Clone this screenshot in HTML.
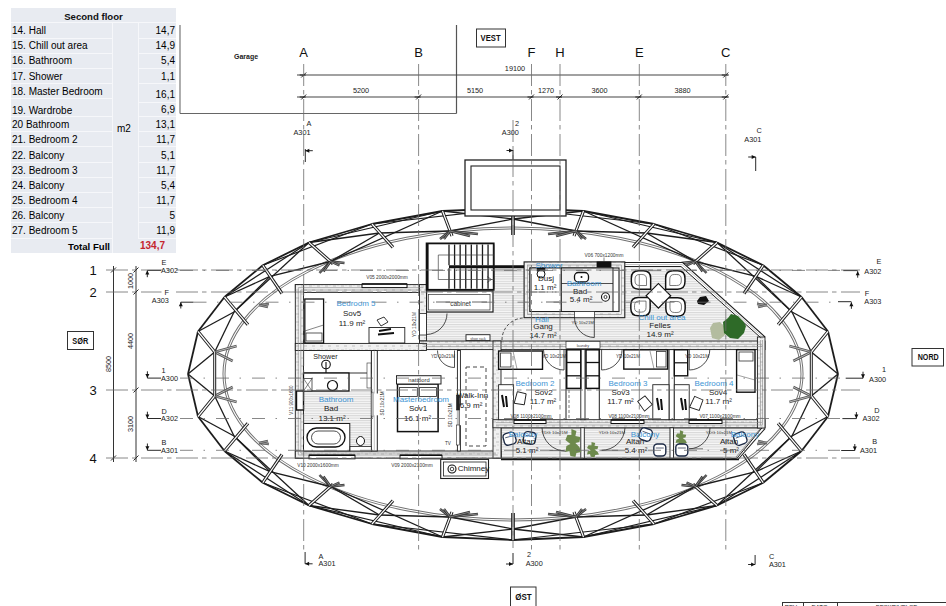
<!DOCTYPE html>
<html><head><meta charset="utf-8"><style>
html,body{margin:0;padding:0;background:#fff;width:946px;height:606px;overflow:hidden;position:relative;font-family:"Liberation Sans",sans-serif}
.tn{position:absolute;left:12px;font-size:10px;line-height:12px;color:#000;white-space:nowrap}
.tv{position:absolute;left:138px;width:37px;text-align:right;font-size:10px;line-height:12px;color:#000}
.th{position:absolute;left:11px;top:10.5px;width:165px;text-align:center;font-size:9.6px;font-weight:bold;line-height:12px;color:#111}
</style></head><body>
<div style="position:absolute;left:11px;top:8px;width:165px;height:245px;background:#e8ebf1"></div><div style="position:absolute;left:11px;top:22.0px;width:165px;height:1px;background:#f6f7fa"></div><div style="position:absolute;left:11px;top:37.5px;width:101px;height:1px;background:#f6f7fa"></div><div style="position:absolute;left:11px;top:52.5px;width:101px;height:1px;background:#f6f7fa"></div><div style="position:absolute;left:11px;top:68.0px;width:101px;height:1px;background:#f6f7fa"></div><div style="position:absolute;left:11px;top:82.5px;width:101px;height:1px;background:#f6f7fa"></div><div style="position:absolute;left:11px;top:97.5px;width:101px;height:1px;background:#f6f7fa"></div><div style="position:absolute;left:11px;top:116.0px;width:101px;height:1px;background:#f6f7fa"></div><div style="position:absolute;left:11px;top:131.0px;width:101px;height:1px;background:#f6f7fa"></div><div style="position:absolute;left:11px;top:146.0px;width:101px;height:1px;background:#f6f7fa"></div><div style="position:absolute;left:11px;top:161.5px;width:101px;height:1px;background:#f6f7fa"></div><div style="position:absolute;left:11px;top:176.5px;width:101px;height:1px;background:#f6f7fa"></div><div style="position:absolute;left:11px;top:191.8px;width:101px;height:1px;background:#f6f7fa"></div><div style="position:absolute;left:11px;top:207.1px;width:101px;height:1px;background:#f6f7fa"></div><div style="position:absolute;left:11px;top:222.3px;width:101px;height:1px;background:#f6f7fa"></div><div style="position:absolute;left:11px;top:237.5px;width:101px;height:1px;background:#f6f7fa"></div><div style="position:absolute;left:138px;top:37.5px;width:38px;height:1px;background:#f6f7fa"></div><div style="position:absolute;left:138px;top:52.5px;width:38px;height:1px;background:#f6f7fa"></div><div style="position:absolute;left:138px;top:68.0px;width:38px;height:1px;background:#f6f7fa"></div><div style="position:absolute;left:138px;top:82.5px;width:38px;height:1px;background:#f6f7fa"></div><div style="position:absolute;left:138px;top:101.5px;width:38px;height:1px;background:#f6f7fa"></div><div style="position:absolute;left:138px;top:116.0px;width:38px;height:1px;background:#f6f7fa"></div><div style="position:absolute;left:138px;top:131.0px;width:38px;height:1px;background:#f6f7fa"></div><div style="position:absolute;left:138px;top:146.0px;width:38px;height:1px;background:#f6f7fa"></div><div style="position:absolute;left:138px;top:161.5px;width:38px;height:1px;background:#f6f7fa"></div><div style="position:absolute;left:138px;top:176.5px;width:38px;height:1px;background:#f6f7fa"></div><div style="position:absolute;left:138px;top:191.8px;width:38px;height:1px;background:#f6f7fa"></div><div style="position:absolute;left:138px;top:207.1px;width:38px;height:1px;background:#f6f7fa"></div><div style="position:absolute;left:138px;top:222.3px;width:38px;height:1px;background:#f6f7fa"></div><div style="position:absolute;left:138px;top:237.5px;width:38px;height:1px;background:#f6f7fa"></div><div style="position:absolute;left:111.5px;top:22.5px;width:1px;height:230.5px;background:#f6f7fa"></div><div style="position:absolute;left:137.5px;top:22.5px;width:1px;height:215.5px;background:#f6f7fa"></div><div class="tn" style="top:25.04px">14. Hall</div><div class="tv" style="top:25.04px">14,7</div><div class="tn" style="top:40.14px">15. Chill out area</div><div class="tv" style="top:40.14px">14,9</div><div class="tn" style="top:55.34px">16. Bathroom</div><div class="tv" style="top:55.34px">5,4</div><div class="tn" style="top:70.54px">17. Shower</div><div class="tv" style="top:70.54px">1,1</div><div class="tn" style="top:85.74px">18. Master Bedroom</div><div class="tv" style="top:88.54px">16,1</div><div class="tn" style="top:104.74px">19. Wardrobe</div><div class="tv" style="top:104.24px">6,9</div><div class="tn" style="top:119.44px">20 Bathroom</div><div class="tv" style="top:119.44px">13,1</div><div class="tn" style="top:134.24px">21. Bedroom 2</div><div class="tv" style="top:134.24px">11,7</div><div class="tn" style="top:149.54px">22. Balcony</div><div class="tv" style="top:149.54px">5,1</div><div class="tn" style="top:164.84px">23. Bedroom 3</div><div class="tv" style="top:164.84px">11,7</div><div class="tn" style="top:180.04px">24. Balcony</div><div class="tv" style="top:180.04px">5,4</div><div class="tn" style="top:194.64px">25. Bedroom 4</div><div class="tv" style="top:194.64px">11,7</div><div class="tn" style="top:209.54px">26. Balcony</div><div class="tv" style="top:209.54px">5</div><div class="tn" style="top:225.14px">27. Bedroom 5</div><div class="tv" style="top:225.14px">11,9</div><div class="th">Second floor</div><div class="tn" style="top:123.04px;left:117px">m2</div><div class="tn" style="top:240.70px;left:0;width:110px;text-align:right;font-weight:bold;font-size:9.6px">Total Full</div><div class="tn" style="top:240.34px;left:140px;color:#c4262e;font-weight:bold;font-size:10px">134,7</div>
<svg width="946" height="606" viewBox="0 0 946 606" style="position:absolute;left:0;top:0" font-family="Liberation Sans, sans-serif"><line x1="180.0" y1="25.0" x2="180.0" y2="113.5" stroke="#777" stroke-width="1.2" /><line x1="180.0" y1="113.5" x2="456.5" y2="113.5" stroke="#666" stroke-width="1.2" /><line x1="456.5" y1="25.0" x2="456.5" y2="113.5" stroke="#555" stroke-width="1.2" /><text x="246" y="59" font-size="7" text-anchor="middle" fill="#222" font-weight="bold" >Garage</text><rect x="476.5" y="29" width="29" height="18" fill="#fff" stroke="#333" stroke-width="1"/><text x="490.6" y="41.2" font-size="8.8" text-anchor="middle" fill="#111" font-weight="bold" textLength="20" lengthAdjust="spacingAndGlyphs">VEST</text><text x="303.7" y="57" font-size="13" text-anchor="middle" fill="#111" font-weight="normal" >A</text><text x="418.6" y="57" font-size="13" text-anchor="middle" fill="#111" font-weight="normal" >B</text><text x="531.5" y="57" font-size="13" text-anchor="middle" fill="#111" font-weight="normal" >F</text><text x="560" y="57" font-size="13" text-anchor="middle" fill="#111" font-weight="normal" >H</text><text x="639.3" y="57" font-size="13" text-anchor="middle" fill="#111" font-weight="normal" >E</text><text x="725.8" y="57" font-size="13" text-anchor="middle" fill="#111" font-weight="normal" >C</text><line x1="297.0" y1="75.0" x2="729.0" y2="75.0" stroke="#444" stroke-width="1.1" /><line x1="297.0" y1="97.0" x2="729.0" y2="97.0" stroke="#444" stroke-width="1.1" /><line x1="301.2" y1="77.5" x2="306.2" y2="72.5" stroke="#111" stroke-width="0.9" /><line x1="299.7" y1="75.0" x2="305.7" y2="75.0" stroke="#111" stroke-width="0.9" /><line x1="723.3" y1="77.5" x2="728.3" y2="72.5" stroke="#111" stroke-width="0.9" /><line x1="721.8" y1="75.0" x2="727.8" y2="75.0" stroke="#111" stroke-width="0.9" /><line x1="301.2" y1="99.5" x2="306.2" y2="94.5" stroke="#111" stroke-width="0.9" /><line x1="299.7" y1="97.0" x2="305.7" y2="97.0" stroke="#111" stroke-width="0.9" /><line x1="416.1" y1="99.5" x2="421.1" y2="94.5" stroke="#111" stroke-width="0.9" /><line x1="414.6" y1="97.0" x2="420.6" y2="97.0" stroke="#111" stroke-width="0.9" /><line x1="529.0" y1="99.5" x2="534.0" y2="94.5" stroke="#111" stroke-width="0.9" /><line x1="527.5" y1="97.0" x2="533.5" y2="97.0" stroke="#111" stroke-width="0.9" /><line x1="557.5" y1="99.5" x2="562.5" y2="94.5" stroke="#111" stroke-width="0.9" /><line x1="556.0" y1="97.0" x2="562.0" y2="97.0" stroke="#111" stroke-width="0.9" /><line x1="636.8" y1="99.5" x2="641.8" y2="94.5" stroke="#111" stroke-width="0.9" /><line x1="635.3" y1="97.0" x2="641.3" y2="97.0" stroke="#111" stroke-width="0.9" /><line x1="723.3" y1="99.5" x2="728.3" y2="94.5" stroke="#111" stroke-width="0.9" /><line x1="721.8" y1="97.0" x2="727.8" y2="97.0" stroke="#111" stroke-width="0.9" /><text x="515" y="70.5" font-size="7.3" text-anchor="middle" fill="#222" font-weight="normal" >19100</text><text x="361" y="92.5" font-size="7.3" text-anchor="middle" fill="#222" font-weight="normal" >5200</text><text x="475" y="92.5" font-size="7.3" text-anchor="middle" fill="#222" font-weight="normal" >5150</text><text x="546" y="92.5" font-size="7.3" text-anchor="middle" fill="#222" font-weight="normal" >1270</text><text x="599.5" y="92.5" font-size="7.3" text-anchor="middle" fill="#222" font-weight="normal" >3600</text><text x="682.5" y="92.5" font-size="7.3" text-anchor="middle" fill="#222" font-weight="normal" >3880</text><text x="308.9" y="126" font-size="7.3" text-anchor="middle" fill="#222" font-weight="normal" >A</text><text x="302" y="135.3" font-size="7.3" text-anchor="middle" fill="#222" font-weight="normal" >A301</text><text x="517" y="126" font-size="7.3" text-anchor="middle" fill="#222" font-weight="normal" >2</text><text x="510.3" y="135.3" font-size="7.3" text-anchor="middle" fill="#222" font-weight="normal" >A300</text><text x="759.2" y="133.3" font-size="7.3" text-anchor="middle" fill="#222" font-weight="normal" >C</text><text x="752.8" y="142" font-size="7.3" text-anchor="middle" fill="#222" font-weight="normal" >A301</text><line x1="305.3" y1="149.0" x2="305.3" y2="162.0" stroke="#111" stroke-width="0.9" /><path d="M305.3,150.7 L312.8,150.7" stroke="#111" stroke-width="0.9"/><path d="M305.3,150.7 L309.3,148.7 L309.3,152.7 Z" fill="#111"/><line x1="513.0" y1="150.0" x2="513.0" y2="161.7" stroke="#111" stroke-width="0.9" /><path d="M513,150.5 L506.5,150.5" stroke="#111" stroke-width="0.9"/><path d="M513,150.5 L509,148.5 L509,152.5 Z" fill="#111"/><line x1="755.7" y1="157.0" x2="755.7" y2="171.0" stroke="#111" stroke-width="0.9" /><path d="M755.7,157 L748.2,157" stroke="#111" stroke-width="0.9"/><path d="M755.7,157 L751.7,155 L751.7,159 Z" fill="#111"/><text x="318.5" y="558.5" font-size="7.3" text-anchor="start" fill="#222" font-weight="normal" >A</text><text x="318.5" y="566.3" font-size="7.3" text-anchor="start" fill="#222" font-weight="normal" >A301</text><text x="527" y="557" font-size="7.3" text-anchor="start" fill="#222" font-weight="normal" >2</text><text x="525.7" y="565.5" font-size="7.3" text-anchor="start" fill="#222" font-weight="normal" >A300</text><text x="768.9" y="558.7" font-size="7.3" text-anchor="start" fill="#222" font-weight="normal" >C</text><text x="768.9" y="566.5" font-size="7.3" text-anchor="start" fill="#222" font-weight="normal" >A301</text><line x1="305.1" y1="552.0" x2="305.1" y2="563.8" stroke="#111" stroke-width="0.9" /><path d="M305.1,563.8 L312.6,563.8" stroke="#111" stroke-width="0.9"/><path d="M305.1,563.8 L309.1,561.8 L309.1,565.8 Z" fill="#111"/><line x1="513.0" y1="553.0" x2="513.0" y2="564.0" stroke="#111" stroke-width="0.9" /><path d="M513,564 L506,564" stroke="#111" stroke-width="0.9"/><path d="M513,564 L509,562 L509,566 Z" fill="#111"/><line x1="755.1" y1="555.0" x2="755.1" y2="564.5" stroke="#111" stroke-width="0.9" /><path d="M755.1,564.5 L748.1,564.5" stroke="#111" stroke-width="0.9"/><path d="M755.1,564.5 L751.1,562.5 L751.1,566.5 Z" fill="#111"/><text x="93" y="275" font-size="13" text-anchor="middle" fill="#111" font-weight="normal" >1</text><text x="93" y="297" font-size="13" text-anchor="middle" fill="#111" font-weight="normal" >2</text><text x="93" y="395" font-size="13" text-anchor="middle" fill="#111" font-weight="normal" >3</text><text x="93" y="463" font-size="13" text-anchor="middle" fill="#111" font-weight="normal" >4</text><line x1="113.5" y1="266.0" x2="113.5" y2="462.0" stroke="#333" stroke-width="1.0" /><line x1="136.0" y1="266.0" x2="136.0" y2="462.0" stroke="#333" stroke-width="1.0" /><line x1="111.0" y1="272.5" x2="116.0" y2="267.5" stroke="#111" stroke-width="0.9" /><line x1="111.0" y1="460.5" x2="116.0" y2="455.5" stroke="#111" stroke-width="0.9" /><line x1="133.5" y1="272.5" x2="138.5" y2="267.5" stroke="#111" stroke-width="0.9" /><line x1="133.5" y1="294.5" x2="138.5" y2="289.5" stroke="#111" stroke-width="0.9" /><line x1="133.5" y1="392.5" x2="138.5" y2="387.5" stroke="#111" stroke-width="0.9" /><line x1="133.5" y1="460.5" x2="138.5" y2="455.5" stroke="#111" stroke-width="0.9" /><text x="0" y="0" font-size="7.3" text-anchor="middle" fill="#222" font-weight="normal" transform="translate(110.5,364) rotate(-90)">8500</text><text x="0" y="0" font-size="7.3" text-anchor="middle" fill="#222" font-weight="normal" transform="translate(133,281) rotate(-90)">1000</text><text x="0" y="0" font-size="7.3" text-anchor="middle" fill="#222" font-weight="normal" transform="translate(133,341) rotate(-90)">4400</text><text x="0" y="0" font-size="7.3" text-anchor="middle" fill="#222" font-weight="normal" transform="translate(133,424) rotate(-90)">3100</text><rect x="67.5" y="331.5" width="26" height="18" fill="#fff" stroke="#333" stroke-width="1"/><text x="80.3" y="343.8" font-size="8.6" text-anchor="middle" fill="#111" font-weight="bold" textLength="16" lengthAdjust="spacingAndGlyphs">SØR</text><rect x="912" y="348.5" width="31.5" height="17.5" fill="#fff" stroke="#333" stroke-width="1"/><text x="928.2" y="360.4" font-size="8.6" text-anchor="middle" fill="#111" font-weight="bold" textLength="21" lengthAdjust="spacingAndGlyphs">NORD</text><rect x="510.5" y="587" width="25.5" height="22" fill="#fff" stroke="#333" stroke-width="1"/><text x="523.5" y="600.3" font-size="8.6" text-anchor="middle" fill="#111" font-weight="bold" textLength="16.5" lengthAdjust="spacingAndGlyphs">ØST</text><text x="161.5" y="264.5" font-size="7.3" text-anchor="start" fill="#222" font-weight="normal" >E</text><text x="161" y="272.7" font-size="7.3" text-anchor="start" fill="#222" font-weight="normal" >A302</text><line x1="147.3" y1="270.4" x2="161.0" y2="270.4" stroke="#111" stroke-width="0.9" /><path d="M147.3,270.4 L147.3,277.2" stroke="#111" stroke-width="0.9"/><path d="M147.3,270.4 L145.3,274.4 L149.3,274.4 Z" fill="#111"/><text x="161.5" y="373.2" font-size="7.3" text-anchor="start" fill="#222" font-weight="normal" >1</text><text x="161" y="381.4" font-size="7.3" text-anchor="start" fill="#222" font-weight="normal" >A300</text><line x1="147.4" y1="378.1" x2="161.0" y2="378.1" stroke="#111" stroke-width="0.9" /><path d="M147.4,378.1 L147.4,371.3" stroke="#111" stroke-width="0.9"/><path d="M147.4,378.1 L145.4,374.1 L149.4,374.1 Z" fill="#111"/><text x="161.5" y="413.6" font-size="7.3" text-anchor="start" fill="#222" font-weight="normal" >D</text><text x="161" y="421.3" font-size="7.3" text-anchor="start" fill="#222" font-weight="normal" >A302</text><line x1="147.4" y1="418.5" x2="161.0" y2="418.5" stroke="#111" stroke-width="0.9" /><path d="M147.4,418.5 L147.4,411.7" stroke="#111" stroke-width="0.9"/><path d="M147.4,418.5 L145.4,414.5 L149.4,414.5 Z" fill="#111"/><text x="161.5" y="444.9" font-size="7.3" text-anchor="start" fill="#222" font-weight="normal" >B</text><text x="161" y="452.6" font-size="7.3" text-anchor="start" fill="#222" font-weight="normal" >A301</text><line x1="147.4" y1="450.3" x2="161.0" y2="450.3" stroke="#111" stroke-width="0.9" /><path d="M147.4,450.3 L147.4,443.5" stroke="#111" stroke-width="0.9"/><path d="M147.4,450.3 L145.4,446.3 L149.4,446.3 Z" fill="#111"/><text x="151.8" y="303.1" font-size="7.3" text-anchor="start" fill="#222" font-weight="normal" >A303</text><line x1="180.8" y1="302.2" x2="193.5" y2="302.2" stroke="#111" stroke-width="0.9" /><path d="M180.8,302.2 L180.8,308.5" stroke="#111" stroke-width="0.9"/><path d="M180.8,302.2 L178.8,306.2 L182.8,306.2 Z" fill="#111"/><line x1="843.3" y1="270.6" x2="857.7" y2="270.6" stroke="#111" stroke-width="0.9" /><path d="M857.7,271.20000000000005 L857.7,277.70000000000005" stroke="#111" stroke-width="0.9"/><path d="M857.7,271.20000000000005 L855.7,275.20000000000005 L859.7,275.20000000000005 Z" fill="#111"/><text x="881.4" y="273.7" font-size="7.3" text-anchor="end" fill="#222" font-weight="normal" >A302</text><text x="881.4" y="263.9" font-size="7.3" text-anchor="end" fill="#222" font-weight="normal" >E</text><line x1="838.0" y1="301.7" x2="851.4" y2="301.7" stroke="#111" stroke-width="0.9" /><path d="M851.4,302.3 L851.4,308.8" stroke="#111" stroke-width="0.9"/><path d="M851.4,302.3 L849.4,306.3 L853.4,306.3 Z" fill="#111"/><text x="881.4" y="303.7" font-size="7.3" text-anchor="end" fill="#222" font-weight="normal" >A303</text><text x="864.7" y="295.6" font-size="7.3" text-anchor="start" fill="#222" font-weight="normal" >F</text><line x1="845.7" y1="378.2" x2="863.0" y2="378.2" stroke="#111" stroke-width="0.9" /><path d="M863,378.2 L863,371.7" stroke="#111" stroke-width="0.9"/><path d="M863,378.2 L861,374.2 L865,374.2 Z" fill="#111"/><text x="886.1" y="381.5" font-size="7.3" text-anchor="end" fill="#222" font-weight="normal" >A300</text><text x="886.1" y="371.9" font-size="7.3" text-anchor="end" fill="#222" font-weight="normal" >1</text><line x1="842.4" y1="418.6" x2="856.4" y2="418.6" stroke="#111" stroke-width="0.9" /><path d="M856.4,418.6 L856.4,412.1" stroke="#111" stroke-width="0.9"/><path d="M856.4,418.6 L854.4,414.6 L858.4,414.6 Z" fill="#111"/><text x="879.5" y="421.4" font-size="7.3" text-anchor="end" fill="#222" font-weight="normal" >A302</text><text x="879.5" y="412.5" font-size="7.3" text-anchor="end" fill="#222" font-weight="normal" >D</text><line x1="841.2" y1="450.5" x2="854.8" y2="450.5" stroke="#111" stroke-width="0.9" /><path d="M854.8,450.5 L854.8,444.0" stroke="#111" stroke-width="0.9"/><path d="M854.8,450.5 L852.8,446.5 L856.8,446.5 Z" fill="#111"/><text x="877" y="453.3" font-size="7.3" text-anchor="end" fill="#222" font-weight="normal" >A301</text><text x="877" y="444.2" font-size="7.3" text-anchor="end" fill="#222" font-weight="normal" >B</text><line x1="782.0" y1="602.5" x2="946.0" y2="602.5" stroke="#333" stroke-width="1" /><line x1="782.5" y1="602.0" x2="782.5" y2="606.0" stroke="#333" stroke-width="1" /><line x1="803.5" y1="602.0" x2="803.5" y2="606.0" stroke="#333" stroke-width="1" /><line x1="837.5" y1="602.0" x2="837.5" y2="606.0" stroke="#333" stroke-width="1" /><text x="791.5" y="608.8" font-size="6" text-anchor="middle" fill="#222" font-weight="normal" >REV.</text><text x="819.5" y="608.8" font-size="6" text-anchor="middle" fill="#222" font-weight="normal" >DATO</text><text x="896.5" y="608.8" font-size="6" text-anchor="middle" fill="#222" font-weight="normal" >BESKRIVELSE</text><ellipse cx="513" cy="374" rx="289" ry="146" fill="none" stroke="#707070" stroke-width="3"/><ellipse cx="513" cy="374" rx="289" ry="146" fill="none" stroke="#fff" stroke-width="1.1"/><line x1="188.0" y1="374.0" x2="198.0" y2="331.5" stroke="#1c1c1c" stroke-width="1.8" /><line x1="198.0" y1="331.5" x2="224.5" y2="297.0" stroke="#1c1c1c" stroke-width="1.8" /><line x1="224.5" y1="297.0" x2="262.8" y2="265.3" stroke="#1c1c1c" stroke-width="1.8" /><line x1="262.8" y1="265.3" x2="309.0" y2="242.5" stroke="#1c1c1c" stroke-width="1.8" /><line x1="309.0" y1="242.5" x2="372.0" y2="224.0" stroke="#1c1c1c" stroke-width="1.8" /><line x1="372.0" y1="224.0" x2="442.5" y2="211.0" stroke="#1c1c1c" stroke-width="1.8" /><line x1="442.5" y1="211.0" x2="513.0" y2="208.0" stroke="#1c1c1c" stroke-width="1.8" /><line x1="224.5" y1="297.0" x2="309.0" y2="242.5" stroke="#1c1c1c" stroke-width="1.2" /><line x1="262.8" y1="265.3" x2="372.0" y2="224.0" stroke="#1c1c1c" stroke-width="1.2" /><line x1="309.0" y1="242.5" x2="442.5" y2="211.0" stroke="#1c1c1c" stroke-width="1.2" /><line x1="372.0" y1="224.0" x2="513.0" y2="208.0" stroke="#1c1c1c" stroke-width="1.2" /><line x1="188.0" y1="374.0" x2="214.7" y2="352.0" stroke="#1c1c1c" stroke-width="1.3" /><line x1="224.5" y1="297.0" x2="270.0" y2="276.4" stroke="#1c1c1c" stroke-width="1.3" /><line x1="309.0" y1="242.5" x2="379.5" y2="233.0" stroke="#1c1c1c" stroke-width="1.3" /><line x1="442.5" y1="211.0" x2="513.0" y2="219.0" stroke="#1c1c1c" stroke-width="1.3" /><line x1="198.0" y1="331.5" x2="234.0" y2="312.0" stroke="#1c1c1c" stroke-width="1.3" /><line x1="234.0" y1="312.0" x2="309.0" y2="242.5" stroke="#1c1c1c" stroke-width="1.3" /><line x1="330.5" y1="261.5" x2="442.5" y2="211.0" stroke="#1c1c1c" stroke-width="1.3" /><line x1="214.7" y1="352.0" x2="234.0" y2="312.0" stroke="#1c1c1c" stroke-width="1.3" /><line x1="234.0" y1="312.0" x2="270.0" y2="276.4" stroke="#1c1c1c" stroke-width="1.3" /><line x1="270.0" y1="276.4" x2="330.5" y2="261.5" stroke="#1c1c1c" stroke-width="1.3" /><line x1="330.5" y1="261.5" x2="379.5" y2="233.0" stroke="#1c1c1c" stroke-width="1.3" /><line x1="379.5" y1="233.0" x2="450.0" y2="231.0" stroke="#1c1c1c" stroke-width="1.3" /><line x1="450.0" y1="231.0" x2="513.0" y2="219.0" stroke="#1c1c1c" stroke-width="1.3" /><line x1="198.0" y1="331.5" x2="214.7" y2="352.0" stroke="#1c1c1c" stroke-width="3.2" stroke-linecap="butt"/><line x1="198.0" y1="331.5" x2="214.7" y2="352.0" stroke="#fff" stroke-width="1.2000000000000002" stroke-linecap="butt"/><line x1="224.5" y1="297.0" x2="247.9" y2="324.7" stroke="#1c1c1c" stroke-width="3.2" stroke-linecap="butt"/><line x1="224.5" y1="297.0" x2="247.9" y2="324.7" stroke="#fff" stroke-width="1.2000000000000002" stroke-linecap="butt"/><line x1="262.8" y1="265.3" x2="282.0" y2="293.5" stroke="#1c1c1c" stroke-width="3.2" stroke-linecap="butt"/><line x1="262.8" y1="265.3" x2="282.0" y2="293.5" stroke="#fff" stroke-width="1.2000000000000002" stroke-linecap="butt"/><line x1="309.0" y1="242.5" x2="333.0" y2="263.8" stroke="#1c1c1c" stroke-width="3.2" stroke-linecap="butt"/><line x1="309.0" y1="242.5" x2="333.0" y2="263.8" stroke="#fff" stroke-width="1.2000000000000002" stroke-linecap="butt"/><line x1="372.0" y1="224.0" x2="393.0" y2="247.4" stroke="#1c1c1c" stroke-width="3.2" stroke-linecap="butt"/><line x1="372.0" y1="224.0" x2="393.0" y2="247.4" stroke="#fff" stroke-width="1.2000000000000002" stroke-linecap="butt"/><line x1="442.5" y1="211.0" x2="452.0" y2="236.0" stroke="#1c1c1c" stroke-width="3.2" stroke-linecap="butt"/><line x1="442.5" y1="211.0" x2="452.0" y2="236.0" stroke="#fff" stroke-width="1.2000000000000002" stroke-linecap="butt"/><line x1="513.0" y1="208.0" x2="513.0" y2="235.0" stroke="#1c1c1c" stroke-width="3.2" stroke-linecap="butt"/><line x1="513.0" y1="208.0" x2="513.0" y2="235.0" stroke="#fff" stroke-width="1.2000000000000002" stroke-linecap="butt"/><line x1="330.5" y1="261.5" x2="319.5" y2="273.0" stroke="#333" stroke-width="2.4" stroke-linecap="butt"/><line x1="330.5" y1="261.5" x2="319.5" y2="273.0" stroke="#fff" stroke-width="0.3999999999999999" stroke-linecap="butt"/><line x1="330.5" y1="261.5" x2="323.5" y2="271.5" stroke="#333" stroke-width="2.4" stroke-linecap="butt"/><line x1="330.5" y1="261.5" x2="323.5" y2="271.5" stroke="#fff" stroke-width="0.3999999999999999" stroke-linecap="butt"/><line x1="330.5" y1="261.5" x2="344.5" y2="263.0" stroke="#333" stroke-width="2.4" stroke-linecap="butt"/><line x1="330.5" y1="261.5" x2="344.5" y2="263.0" stroke="#fff" stroke-width="0.3999999999999999" stroke-linecap="butt"/><line x1="330.5" y1="261.5" x2="339.5" y2="265.5" stroke="#333" stroke-width="2.4" stroke-linecap="butt"/><line x1="330.5" y1="261.5" x2="339.5" y2="265.5" stroke="#fff" stroke-width="0.3999999999999999" stroke-linecap="butt"/><line x1="450.0" y1="231.0" x2="440.0" y2="239.0" stroke="#333" stroke-width="2.4" stroke-linecap="butt"/><line x1="450.0" y1="231.0" x2="440.0" y2="239.0" stroke="#fff" stroke-width="0.3999999999999999" stroke-linecap="butt"/><line x1="450.0" y1="231.0" x2="444.0" y2="239.0" stroke="#333" stroke-width="2.4" stroke-linecap="butt"/><line x1="450.0" y1="231.0" x2="444.0" y2="239.0" stroke="#fff" stroke-width="0.3999999999999999" stroke-linecap="butt"/><line x1="450.0" y1="231.0" x2="478.0" y2="234.0" stroke="#333" stroke-width="2.4" stroke-linecap="butt"/><line x1="450.0" y1="231.0" x2="478.0" y2="234.0" stroke="#fff" stroke-width="0.3999999999999999" stroke-linecap="butt"/><line x1="450.0" y1="231.0" x2="470.0" y2="236.0" stroke="#333" stroke-width="2.4" stroke-linecap="butt"/><line x1="450.0" y1="231.0" x2="470.0" y2="236.0" stroke="#fff" stroke-width="0.3999999999999999" stroke-linecap="butt"/><line x1="214.7" y1="352.0" x2="236.7" y2="346.0" stroke="#555" stroke-width="2.6" stroke-linecap="butt"/><line x1="214.7" y1="352.0" x2="236.7" y2="346.0" stroke="#fff" stroke-width="0.6000000000000001" stroke-linecap="butt"/><line x1="214.7" y1="352.0" x2="232.7" y2="361.0" stroke="#555" stroke-width="2.6" stroke-linecap="butt"/><line x1="214.7" y1="352.0" x2="232.7" y2="361.0" stroke="#fff" stroke-width="0.6000000000000001" stroke-linecap="butt"/><line x1="259.0" y1="305.0" x2="269.0" y2="304.0" stroke="#555" stroke-width="2.4" stroke-linecap="butt"/><line x1="259.0" y1="305.0" x2="269.0" y2="304.0" stroke="#fff" stroke-width="0.3999999999999999" stroke-linecap="butt"/><line x1="259.0" y1="305.0" x2="268.0" y2="307.0" stroke="#555" stroke-width="2.4" stroke-linecap="butt"/><line x1="259.0" y1="305.0" x2="268.0" y2="307.0" stroke="#fff" stroke-width="0.3999999999999999" stroke-linecap="butt"/><line x1="838.0" y1="374.0" x2="828.0" y2="331.5" stroke="#1c1c1c" stroke-width="1.8" /><line x1="828.0" y1="331.5" x2="801.5" y2="297.0" stroke="#1c1c1c" stroke-width="1.8" /><line x1="801.5" y1="297.0" x2="763.2" y2="265.3" stroke="#1c1c1c" stroke-width="1.8" /><line x1="763.2" y1="265.3" x2="717.0" y2="242.5" stroke="#1c1c1c" stroke-width="1.8" /><line x1="717.0" y1="242.5" x2="654.0" y2="224.0" stroke="#1c1c1c" stroke-width="1.8" /><line x1="654.0" y1="224.0" x2="583.5" y2="211.0" stroke="#1c1c1c" stroke-width="1.8" /><line x1="583.5" y1="211.0" x2="513.0" y2="208.0" stroke="#1c1c1c" stroke-width="1.8" /><line x1="801.5" y1="297.0" x2="717.0" y2="242.5" stroke="#1c1c1c" stroke-width="1.2" /><line x1="763.2" y1="265.3" x2="654.0" y2="224.0" stroke="#1c1c1c" stroke-width="1.2" /><line x1="717.0" y1="242.5" x2="583.5" y2="211.0" stroke="#1c1c1c" stroke-width="1.2" /><line x1="654.0" y1="224.0" x2="513.0" y2="208.0" stroke="#1c1c1c" stroke-width="1.2" /><line x1="838.0" y1="374.0" x2="811.3" y2="352.0" stroke="#1c1c1c" stroke-width="1.3" /><line x1="801.5" y1="297.0" x2="756.0" y2="276.4" stroke="#1c1c1c" stroke-width="1.3" /><line x1="717.0" y1="242.5" x2="646.5" y2="233.0" stroke="#1c1c1c" stroke-width="1.3" /><line x1="583.5" y1="211.0" x2="513.0" y2="219.0" stroke="#1c1c1c" stroke-width="1.3" /><line x1="828.0" y1="331.5" x2="792.0" y2="312.0" stroke="#1c1c1c" stroke-width="1.3" /><line x1="792.0" y1="312.0" x2="717.0" y2="242.5" stroke="#1c1c1c" stroke-width="1.3" /><line x1="695.5" y1="261.5" x2="583.5" y2="211.0" stroke="#1c1c1c" stroke-width="1.3" /><line x1="811.3" y1="352.0" x2="792.0" y2="312.0" stroke="#1c1c1c" stroke-width="1.3" /><line x1="792.0" y1="312.0" x2="756.0" y2="276.4" stroke="#1c1c1c" stroke-width="1.3" /><line x1="756.0" y1="276.4" x2="695.5" y2="261.5" stroke="#1c1c1c" stroke-width="1.3" /><line x1="695.5" y1="261.5" x2="646.5" y2="233.0" stroke="#1c1c1c" stroke-width="1.3" /><line x1="646.5" y1="233.0" x2="576.0" y2="231.0" stroke="#1c1c1c" stroke-width="1.3" /><line x1="576.0" y1="231.0" x2="513.0" y2="219.0" stroke="#1c1c1c" stroke-width="1.3" /><line x1="828.0" y1="331.5" x2="811.3" y2="352.0" stroke="#1c1c1c" stroke-width="3.2" stroke-linecap="butt"/><line x1="828.0" y1="331.5" x2="811.3" y2="352.0" stroke="#fff" stroke-width="1.2000000000000002" stroke-linecap="butt"/><line x1="801.5" y1="297.0" x2="778.1" y2="324.7" stroke="#1c1c1c" stroke-width="3.2" stroke-linecap="butt"/><line x1="801.5" y1="297.0" x2="778.1" y2="324.7" stroke="#fff" stroke-width="1.2000000000000002" stroke-linecap="butt"/><line x1="763.2" y1="265.3" x2="744.0" y2="293.5" stroke="#1c1c1c" stroke-width="3.2" stroke-linecap="butt"/><line x1="763.2" y1="265.3" x2="744.0" y2="293.5" stroke="#fff" stroke-width="1.2000000000000002" stroke-linecap="butt"/><line x1="717.0" y1="242.5" x2="693.0" y2="263.8" stroke="#1c1c1c" stroke-width="3.2" stroke-linecap="butt"/><line x1="717.0" y1="242.5" x2="693.0" y2="263.8" stroke="#fff" stroke-width="1.2000000000000002" stroke-linecap="butt"/><line x1="654.0" y1="224.0" x2="633.0" y2="247.4" stroke="#1c1c1c" stroke-width="3.2" stroke-linecap="butt"/><line x1="654.0" y1="224.0" x2="633.0" y2="247.4" stroke="#fff" stroke-width="1.2000000000000002" stroke-linecap="butt"/><line x1="583.5" y1="211.0" x2="574.0" y2="236.0" stroke="#1c1c1c" stroke-width="3.2" stroke-linecap="butt"/><line x1="583.5" y1="211.0" x2="574.0" y2="236.0" stroke="#fff" stroke-width="1.2000000000000002" stroke-linecap="butt"/><line x1="513.0" y1="208.0" x2="513.0" y2="235.0" stroke="#1c1c1c" stroke-width="3.2" stroke-linecap="butt"/><line x1="513.0" y1="208.0" x2="513.0" y2="235.0" stroke="#fff" stroke-width="1.2000000000000002" stroke-linecap="butt"/><line x1="695.5" y1="261.5" x2="706.5" y2="273.0" stroke="#333" stroke-width="2.4" stroke-linecap="butt"/><line x1="695.5" y1="261.5" x2="706.5" y2="273.0" stroke="#fff" stroke-width="0.3999999999999999" stroke-linecap="butt"/><line x1="695.5" y1="261.5" x2="702.5" y2="271.5" stroke="#333" stroke-width="2.4" stroke-linecap="butt"/><line x1="695.5" y1="261.5" x2="702.5" y2="271.5" stroke="#fff" stroke-width="0.3999999999999999" stroke-linecap="butt"/><line x1="695.5" y1="261.5" x2="681.5" y2="263.0" stroke="#333" stroke-width="2.4" stroke-linecap="butt"/><line x1="695.5" y1="261.5" x2="681.5" y2="263.0" stroke="#fff" stroke-width="0.3999999999999999" stroke-linecap="butt"/><line x1="695.5" y1="261.5" x2="686.5" y2="265.5" stroke="#333" stroke-width="2.4" stroke-linecap="butt"/><line x1="695.5" y1="261.5" x2="686.5" y2="265.5" stroke="#fff" stroke-width="0.3999999999999999" stroke-linecap="butt"/><line x1="576.0" y1="231.0" x2="586.0" y2="239.0" stroke="#333" stroke-width="2.4" stroke-linecap="butt"/><line x1="576.0" y1="231.0" x2="586.0" y2="239.0" stroke="#fff" stroke-width="0.3999999999999999" stroke-linecap="butt"/><line x1="576.0" y1="231.0" x2="582.0" y2="239.0" stroke="#333" stroke-width="2.4" stroke-linecap="butt"/><line x1="576.0" y1="231.0" x2="582.0" y2="239.0" stroke="#fff" stroke-width="0.3999999999999999" stroke-linecap="butt"/><line x1="576.0" y1="231.0" x2="548.0" y2="234.0" stroke="#333" stroke-width="2.4" stroke-linecap="butt"/><line x1="576.0" y1="231.0" x2="548.0" y2="234.0" stroke="#fff" stroke-width="0.3999999999999999" stroke-linecap="butt"/><line x1="576.0" y1="231.0" x2="556.0" y2="236.0" stroke="#333" stroke-width="2.4" stroke-linecap="butt"/><line x1="576.0" y1="231.0" x2="556.0" y2="236.0" stroke="#fff" stroke-width="0.3999999999999999" stroke-linecap="butt"/><line x1="811.3" y1="352.0" x2="789.3" y2="346.0" stroke="#555" stroke-width="2.6" stroke-linecap="butt"/><line x1="811.3" y1="352.0" x2="789.3" y2="346.0" stroke="#fff" stroke-width="0.6000000000000001" stroke-linecap="butt"/><line x1="811.3" y1="352.0" x2="793.3" y2="361.0" stroke="#555" stroke-width="2.6" stroke-linecap="butt"/><line x1="811.3" y1="352.0" x2="793.3" y2="361.0" stroke="#fff" stroke-width="0.6000000000000001" stroke-linecap="butt"/><line x1="767.0" y1="305.0" x2="757.0" y2="304.0" stroke="#555" stroke-width="2.4" stroke-linecap="butt"/><line x1="767.0" y1="305.0" x2="757.0" y2="304.0" stroke="#fff" stroke-width="0.3999999999999999" stroke-linecap="butt"/><line x1="767.0" y1="305.0" x2="758.0" y2="307.0" stroke="#555" stroke-width="2.4" stroke-linecap="butt"/><line x1="767.0" y1="305.0" x2="758.0" y2="307.0" stroke="#fff" stroke-width="0.3999999999999999" stroke-linecap="butt"/><line x1="188.0" y1="374.0" x2="198.0" y2="416.5" stroke="#1c1c1c" stroke-width="1.8" /><line x1="198.0" y1="416.5" x2="224.5" y2="451.0" stroke="#1c1c1c" stroke-width="1.8" /><line x1="224.5" y1="451.0" x2="262.8" y2="482.7" stroke="#1c1c1c" stroke-width="1.8" /><line x1="262.8" y1="482.7" x2="309.0" y2="505.5" stroke="#1c1c1c" stroke-width="1.8" /><line x1="309.0" y1="505.5" x2="372.0" y2="524.0" stroke="#1c1c1c" stroke-width="1.8" /><line x1="372.0" y1="524.0" x2="442.5" y2="537.0" stroke="#1c1c1c" stroke-width="1.8" /><line x1="442.5" y1="537.0" x2="513.0" y2="540.0" stroke="#1c1c1c" stroke-width="1.8" /><line x1="224.5" y1="451.0" x2="309.0" y2="505.5" stroke="#1c1c1c" stroke-width="1.2" /><line x1="262.8" y1="482.7" x2="372.0" y2="524.0" stroke="#1c1c1c" stroke-width="1.2" /><line x1="309.0" y1="505.5" x2="442.5" y2="537.0" stroke="#1c1c1c" stroke-width="1.2" /><line x1="372.0" y1="524.0" x2="513.0" y2="540.0" stroke="#1c1c1c" stroke-width="1.2" /><line x1="188.0" y1="374.0" x2="214.7" y2="396.0" stroke="#1c1c1c" stroke-width="1.3" /><line x1="224.5" y1="451.0" x2="270.0" y2="471.6" stroke="#1c1c1c" stroke-width="1.3" /><line x1="309.0" y1="505.5" x2="379.5" y2="515.0" stroke="#1c1c1c" stroke-width="1.3" /><line x1="442.5" y1="537.0" x2="513.0" y2="529.0" stroke="#1c1c1c" stroke-width="1.3" /><line x1="198.0" y1="416.5" x2="234.0" y2="436.0" stroke="#1c1c1c" stroke-width="1.3" /><line x1="234.0" y1="436.0" x2="309.0" y2="505.5" stroke="#1c1c1c" stroke-width="1.3" /><line x1="330.5" y1="486.5" x2="442.5" y2="537.0" stroke="#1c1c1c" stroke-width="1.3" /><line x1="214.7" y1="396.0" x2="234.0" y2="436.0" stroke="#1c1c1c" stroke-width="1.3" /><line x1="234.0" y1="436.0" x2="270.0" y2="471.6" stroke="#1c1c1c" stroke-width="1.3" /><line x1="270.0" y1="471.6" x2="330.5" y2="486.5" stroke="#1c1c1c" stroke-width="1.3" /><line x1="330.5" y1="486.5" x2="379.5" y2="515.0" stroke="#1c1c1c" stroke-width="1.3" /><line x1="379.5" y1="515.0" x2="450.0" y2="517.0" stroke="#1c1c1c" stroke-width="1.3" /><line x1="450.0" y1="517.0" x2="513.0" y2="529.0" stroke="#1c1c1c" stroke-width="1.3" /><line x1="198.0" y1="416.5" x2="214.7" y2="396.0" stroke="#1c1c1c" stroke-width="3.2" stroke-linecap="butt"/><line x1="198.0" y1="416.5" x2="214.7" y2="396.0" stroke="#fff" stroke-width="1.2000000000000002" stroke-linecap="butt"/><line x1="224.5" y1="451.0" x2="247.9" y2="423.3" stroke="#1c1c1c" stroke-width="3.2" stroke-linecap="butt"/><line x1="224.5" y1="451.0" x2="247.9" y2="423.3" stroke="#fff" stroke-width="1.2000000000000002" stroke-linecap="butt"/><line x1="262.8" y1="482.7" x2="282.0" y2="454.5" stroke="#1c1c1c" stroke-width="3.2" stroke-linecap="butt"/><line x1="262.8" y1="482.7" x2="282.0" y2="454.5" stroke="#fff" stroke-width="1.2000000000000002" stroke-linecap="butt"/><line x1="309.0" y1="505.5" x2="333.0" y2="484.2" stroke="#1c1c1c" stroke-width="3.2" stroke-linecap="butt"/><line x1="309.0" y1="505.5" x2="333.0" y2="484.2" stroke="#fff" stroke-width="1.2000000000000002" stroke-linecap="butt"/><line x1="372.0" y1="524.0" x2="393.0" y2="500.6" stroke="#1c1c1c" stroke-width="3.2" stroke-linecap="butt"/><line x1="372.0" y1="524.0" x2="393.0" y2="500.6" stroke="#fff" stroke-width="1.2000000000000002" stroke-linecap="butt"/><line x1="442.5" y1="537.0" x2="452.0" y2="512.0" stroke="#1c1c1c" stroke-width="3.2" stroke-linecap="butt"/><line x1="442.5" y1="537.0" x2="452.0" y2="512.0" stroke="#fff" stroke-width="1.2000000000000002" stroke-linecap="butt"/><line x1="513.0" y1="540.0" x2="513.0" y2="513.0" stroke="#1c1c1c" stroke-width="3.2" stroke-linecap="butt"/><line x1="513.0" y1="540.0" x2="513.0" y2="513.0" stroke="#fff" stroke-width="1.2000000000000002" stroke-linecap="butt"/><line x1="330.5" y1="486.5" x2="319.5" y2="475.0" stroke="#333" stroke-width="2.4" stroke-linecap="butt"/><line x1="330.5" y1="486.5" x2="319.5" y2="475.0" stroke="#fff" stroke-width="0.3999999999999999" stroke-linecap="butt"/><line x1="330.5" y1="486.5" x2="323.5" y2="476.5" stroke="#333" stroke-width="2.4" stroke-linecap="butt"/><line x1="330.5" y1="486.5" x2="323.5" y2="476.5" stroke="#fff" stroke-width="0.3999999999999999" stroke-linecap="butt"/><line x1="330.5" y1="486.5" x2="344.5" y2="485.0" stroke="#333" stroke-width="2.4" stroke-linecap="butt"/><line x1="330.5" y1="486.5" x2="344.5" y2="485.0" stroke="#fff" stroke-width="0.3999999999999999" stroke-linecap="butt"/><line x1="330.5" y1="486.5" x2="339.5" y2="482.5" stroke="#333" stroke-width="2.4" stroke-linecap="butt"/><line x1="330.5" y1="486.5" x2="339.5" y2="482.5" stroke="#fff" stroke-width="0.3999999999999999" stroke-linecap="butt"/><line x1="450.0" y1="517.0" x2="440.0" y2="509.0" stroke="#333" stroke-width="2.4" stroke-linecap="butt"/><line x1="450.0" y1="517.0" x2="440.0" y2="509.0" stroke="#fff" stroke-width="0.3999999999999999" stroke-linecap="butt"/><line x1="450.0" y1="517.0" x2="444.0" y2="509.0" stroke="#333" stroke-width="2.4" stroke-linecap="butt"/><line x1="450.0" y1="517.0" x2="444.0" y2="509.0" stroke="#fff" stroke-width="0.3999999999999999" stroke-linecap="butt"/><line x1="450.0" y1="517.0" x2="478.0" y2="514.0" stroke="#333" stroke-width="2.4" stroke-linecap="butt"/><line x1="450.0" y1="517.0" x2="478.0" y2="514.0" stroke="#fff" stroke-width="0.3999999999999999" stroke-linecap="butt"/><line x1="450.0" y1="517.0" x2="470.0" y2="512.0" stroke="#333" stroke-width="2.4" stroke-linecap="butt"/><line x1="450.0" y1="517.0" x2="470.0" y2="512.0" stroke="#fff" stroke-width="0.3999999999999999" stroke-linecap="butt"/><line x1="214.7" y1="396.0" x2="236.7" y2="402.0" stroke="#555" stroke-width="2.6" stroke-linecap="butt"/><line x1="214.7" y1="396.0" x2="236.7" y2="402.0" stroke="#fff" stroke-width="0.6000000000000001" stroke-linecap="butt"/><line x1="214.7" y1="396.0" x2="232.7" y2="387.0" stroke="#555" stroke-width="2.6" stroke-linecap="butt"/><line x1="214.7" y1="396.0" x2="232.7" y2="387.0" stroke="#fff" stroke-width="0.6000000000000001" stroke-linecap="butt"/><line x1="259.0" y1="443.0" x2="269.0" y2="444.0" stroke="#555" stroke-width="2.4" stroke-linecap="butt"/><line x1="259.0" y1="443.0" x2="269.0" y2="444.0" stroke="#fff" stroke-width="0.3999999999999999" stroke-linecap="butt"/><line x1="259.0" y1="443.0" x2="268.0" y2="441.0" stroke="#555" stroke-width="2.4" stroke-linecap="butt"/><line x1="259.0" y1="443.0" x2="268.0" y2="441.0" stroke="#fff" stroke-width="0.3999999999999999" stroke-linecap="butt"/><line x1="838.0" y1="374.0" x2="828.0" y2="416.5" stroke="#1c1c1c" stroke-width="1.8" /><line x1="828.0" y1="416.5" x2="801.5" y2="451.0" stroke="#1c1c1c" stroke-width="1.8" /><line x1="801.5" y1="451.0" x2="763.2" y2="482.7" stroke="#1c1c1c" stroke-width="1.8" /><line x1="763.2" y1="482.7" x2="717.0" y2="505.5" stroke="#1c1c1c" stroke-width="1.8" /><line x1="717.0" y1="505.5" x2="654.0" y2="524.0" stroke="#1c1c1c" stroke-width="1.8" /><line x1="654.0" y1="524.0" x2="583.5" y2="537.0" stroke="#1c1c1c" stroke-width="1.8" /><line x1="583.5" y1="537.0" x2="513.0" y2="540.0" stroke="#1c1c1c" stroke-width="1.8" /><line x1="801.5" y1="451.0" x2="717.0" y2="505.5" stroke="#1c1c1c" stroke-width="1.2" /><line x1="763.2" y1="482.7" x2="654.0" y2="524.0" stroke="#1c1c1c" stroke-width="1.2" /><line x1="717.0" y1="505.5" x2="583.5" y2="537.0" stroke="#1c1c1c" stroke-width="1.2" /><line x1="654.0" y1="524.0" x2="513.0" y2="540.0" stroke="#1c1c1c" stroke-width="1.2" /><line x1="838.0" y1="374.0" x2="811.3" y2="396.0" stroke="#1c1c1c" stroke-width="1.3" /><line x1="801.5" y1="451.0" x2="756.0" y2="471.6" stroke="#1c1c1c" stroke-width="1.3" /><line x1="717.0" y1="505.5" x2="646.5" y2="515.0" stroke="#1c1c1c" stroke-width="1.3" /><line x1="583.5" y1="537.0" x2="513.0" y2="529.0" stroke="#1c1c1c" stroke-width="1.3" /><line x1="828.0" y1="416.5" x2="792.0" y2="436.0" stroke="#1c1c1c" stroke-width="1.3" /><line x1="792.0" y1="436.0" x2="717.0" y2="505.5" stroke="#1c1c1c" stroke-width="1.3" /><line x1="695.5" y1="486.5" x2="583.5" y2="537.0" stroke="#1c1c1c" stroke-width="1.3" /><line x1="811.3" y1="396.0" x2="792.0" y2="436.0" stroke="#1c1c1c" stroke-width="1.3" /><line x1="792.0" y1="436.0" x2="756.0" y2="471.6" stroke="#1c1c1c" stroke-width="1.3" /><line x1="756.0" y1="471.6" x2="695.5" y2="486.5" stroke="#1c1c1c" stroke-width="1.3" /><line x1="695.5" y1="486.5" x2="646.5" y2="515.0" stroke="#1c1c1c" stroke-width="1.3" /><line x1="646.5" y1="515.0" x2="576.0" y2="517.0" stroke="#1c1c1c" stroke-width="1.3" /><line x1="576.0" y1="517.0" x2="513.0" y2="529.0" stroke="#1c1c1c" stroke-width="1.3" /><line x1="828.0" y1="416.5" x2="811.3" y2="396.0" stroke="#1c1c1c" stroke-width="3.2" stroke-linecap="butt"/><line x1="828.0" y1="416.5" x2="811.3" y2="396.0" stroke="#fff" stroke-width="1.2000000000000002" stroke-linecap="butt"/><line x1="801.5" y1="451.0" x2="778.1" y2="423.3" stroke="#1c1c1c" stroke-width="3.2" stroke-linecap="butt"/><line x1="801.5" y1="451.0" x2="778.1" y2="423.3" stroke="#fff" stroke-width="1.2000000000000002" stroke-linecap="butt"/><line x1="763.2" y1="482.7" x2="744.0" y2="454.5" stroke="#1c1c1c" stroke-width="3.2" stroke-linecap="butt"/><line x1="763.2" y1="482.7" x2="744.0" y2="454.5" stroke="#fff" stroke-width="1.2000000000000002" stroke-linecap="butt"/><line x1="717.0" y1="505.5" x2="693.0" y2="484.2" stroke="#1c1c1c" stroke-width="3.2" stroke-linecap="butt"/><line x1="717.0" y1="505.5" x2="693.0" y2="484.2" stroke="#fff" stroke-width="1.2000000000000002" stroke-linecap="butt"/><line x1="654.0" y1="524.0" x2="633.0" y2="500.6" stroke="#1c1c1c" stroke-width="3.2" stroke-linecap="butt"/><line x1="654.0" y1="524.0" x2="633.0" y2="500.6" stroke="#fff" stroke-width="1.2000000000000002" stroke-linecap="butt"/><line x1="583.5" y1="537.0" x2="574.0" y2="512.0" stroke="#1c1c1c" stroke-width="3.2" stroke-linecap="butt"/><line x1="583.5" y1="537.0" x2="574.0" y2="512.0" stroke="#fff" stroke-width="1.2000000000000002" stroke-linecap="butt"/><line x1="513.0" y1="540.0" x2="513.0" y2="513.0" stroke="#1c1c1c" stroke-width="3.2" stroke-linecap="butt"/><line x1="513.0" y1="540.0" x2="513.0" y2="513.0" stroke="#fff" stroke-width="1.2000000000000002" stroke-linecap="butt"/><line x1="695.5" y1="486.5" x2="706.5" y2="475.0" stroke="#333" stroke-width="2.4" stroke-linecap="butt"/><line x1="695.5" y1="486.5" x2="706.5" y2="475.0" stroke="#fff" stroke-width="0.3999999999999999" stroke-linecap="butt"/><line x1="695.5" y1="486.5" x2="702.5" y2="476.5" stroke="#333" stroke-width="2.4" stroke-linecap="butt"/><line x1="695.5" y1="486.5" x2="702.5" y2="476.5" stroke="#fff" stroke-width="0.3999999999999999" stroke-linecap="butt"/><line x1="695.5" y1="486.5" x2="681.5" y2="485.0" stroke="#333" stroke-width="2.4" stroke-linecap="butt"/><line x1="695.5" y1="486.5" x2="681.5" y2="485.0" stroke="#fff" stroke-width="0.3999999999999999" stroke-linecap="butt"/><line x1="695.5" y1="486.5" x2="686.5" y2="482.5" stroke="#333" stroke-width="2.4" stroke-linecap="butt"/><line x1="695.5" y1="486.5" x2="686.5" y2="482.5" stroke="#fff" stroke-width="0.3999999999999999" stroke-linecap="butt"/><line x1="576.0" y1="517.0" x2="586.0" y2="509.0" stroke="#333" stroke-width="2.4" stroke-linecap="butt"/><line x1="576.0" y1="517.0" x2="586.0" y2="509.0" stroke="#fff" stroke-width="0.3999999999999999" stroke-linecap="butt"/><line x1="576.0" y1="517.0" x2="582.0" y2="509.0" stroke="#333" stroke-width="2.4" stroke-linecap="butt"/><line x1="576.0" y1="517.0" x2="582.0" y2="509.0" stroke="#fff" stroke-width="0.3999999999999999" stroke-linecap="butt"/><line x1="576.0" y1="517.0" x2="548.0" y2="514.0" stroke="#333" stroke-width="2.4" stroke-linecap="butt"/><line x1="576.0" y1="517.0" x2="548.0" y2="514.0" stroke="#fff" stroke-width="0.3999999999999999" stroke-linecap="butt"/><line x1="576.0" y1="517.0" x2="556.0" y2="512.0" stroke="#333" stroke-width="2.4" stroke-linecap="butt"/><line x1="576.0" y1="517.0" x2="556.0" y2="512.0" stroke="#fff" stroke-width="0.3999999999999999" stroke-linecap="butt"/><line x1="811.3" y1="396.0" x2="789.3" y2="402.0" stroke="#555" stroke-width="2.6" stroke-linecap="butt"/><line x1="811.3" y1="396.0" x2="789.3" y2="402.0" stroke="#fff" stroke-width="0.6000000000000001" stroke-linecap="butt"/><line x1="811.3" y1="396.0" x2="793.3" y2="387.0" stroke="#555" stroke-width="2.6" stroke-linecap="butt"/><line x1="811.3" y1="396.0" x2="793.3" y2="387.0" stroke="#fff" stroke-width="0.6000000000000001" stroke-linecap="butt"/><line x1="767.0" y1="443.0" x2="757.0" y2="444.0" stroke="#555" stroke-width="2.4" stroke-linecap="butt"/><line x1="767.0" y1="443.0" x2="757.0" y2="444.0" stroke="#fff" stroke-width="0.3999999999999999" stroke-linecap="butt"/><line x1="767.0" y1="443.0" x2="758.0" y2="441.0" stroke="#555" stroke-width="2.4" stroke-linecap="butt"/><line x1="767.0" y1="443.0" x2="758.0" y2="441.0" stroke="#fff" stroke-width="0.3999999999999999" stroke-linecap="butt"/><line x1="214.7" y1="352.0" x2="214.7" y2="396.0" stroke="#1c1c1c" stroke-width="3.0" stroke-linecap="butt"/><line x1="214.7" y1="352.0" x2="214.7" y2="396.0" stroke="#fff" stroke-width="1.0" stroke-linecap="butt"/><line x1="811.3" y1="352.0" x2="811.3" y2="396.0" stroke="#1c1c1c" stroke-width="3.0" stroke-linecap="butt"/><line x1="811.3" y1="352.0" x2="811.3" y2="396.0" stroke="#fff" stroke-width="1.0" stroke-linecap="butt"/><rect x="465" y="160" width="101" height="56" fill="#fff" stroke="#222" stroke-width="1.3"/><rect x="471" y="166" width="89" height="44" fill="none" stroke="#222" stroke-width="1.1"/><defs><pattern id="hatch" width="4" height="2.4" patternUnits="userSpaceOnUse"><rect width="4" height="2.4" fill="#f7f7f7"/><line x1="0" y1="0.6" x2="4" y2="0.6" stroke="#b8b8b8" stroke-width="0.6"/></pattern><pattern id="wallp" width="8" height="8" patternUnits="userSpaceOnUse"><rect width="8" height="8" fill="#f0f0f0"/><path d="M0,2 L3,2 M5,6 L8,6 M2,4.5 L2,5.5" stroke="#a0a0a0" stroke-width="0.6"/></pattern></defs><path d="M295.3,284.6 L426.5,284.6 L426.5,243.3 L493.5,243.3 L493.5,265.5 L524.1,265.5 L524.1,261.9 L624.8,261.9 L624.8,262.5 L682.7,262.5 L765,337 L765,428.6 L738,459.5 L501,459.5 L501,458.2 L295.3,458.2 Z" fill="#fff" stroke="none"/><path d="M426.5,289.5 L493.5,289.5 L493.5,267 L524.1,267 L524.1,317.7 L624.8,317.7 L624.8,266.5 L681,266.5 L760,337.5 L760,341 L426.5,341 Z" fill="url(#hatch)" stroke="none"/><rect x="303.5" y="391" width="67.80" height="60.00" fill="url(#hatch)" stroke="none" stroke-width="0" /><path d="M501,427.8 L762,427.8 L737,458.2 L501,458.2 Z" fill="url(#hatch)" stroke="#1e1e1e" stroke-width="1"/><line x1="501" y1="459.3" x2="739" y2="459.3" stroke="#111" stroke-width="1.8" /><rect x="295.3" y="284.6" width="131.20" height="7.90" fill="url(#wallp)" stroke="#1e1e1e" stroke-width="0.9" /><rect x="295.3" y="284.6" width="8.20" height="173.60" fill="url(#wallp)" stroke="#1e1e1e" stroke-width="0.9" /><rect x="295.3" y="451" width="205.70" height="7.20" fill="url(#wallp)" stroke="#1e1e1e" stroke-width="0.9" /><rect x="419.5" y="284.6" width="7.00" height="56.40" fill="url(#wallp)" stroke="#1e1e1e" stroke-width="0.9" /><rect x="419.5" y="341" width="345.50" height="8.60" fill="url(#wallp)" stroke="#1e1e1e" stroke-width="0.9" /><rect x="295.3" y="343.4" width="131.20" height="7.10" fill="url(#wallp)" stroke="#1e1e1e" stroke-width="0.9" /><rect x="493" y="341" width="8.00" height="117.20" fill="url(#wallp)" stroke="#1e1e1e" stroke-width="0.9" /><rect x="493" y="419.7" width="272.00" height="8.10" fill="url(#wallp)" stroke="#1e1e1e" stroke-width="0.9" /><rect x="757.4" y="337" width="7.60" height="91.00" fill="url(#wallp)" stroke="#1e1e1e" stroke-width="0.9" /><path d="M298.3,287.6 L423.5,287.6 M298.3,287.6 L298.3,455 L497.8,455 M300.8,290 L421.5,290 M300.8,290 L300.8,453 L495.8,453" fill="none" stroke="#888" stroke-width="0.6"/><path d="M422.5,344.3 L762,344.3 M422.5,346.6 L762,346.6 M496,422.6 L762,422.6 M496,425 L762,425 M760.5,340 L760.5,425 M762.5,340 L762.5,425" fill="none" stroke="#888" stroke-width="0.6"/><rect x="420" y="313.5" width="6.00" height="21.50" fill="#fff" stroke="none" stroke-width="0" /><line x1="419.5" y1="313.5" x2="426.5" y2="313.5" stroke="#222" stroke-width="0.8" /><line x1="419.5" y1="335" x2="426.5" y2="335" stroke="#222" stroke-width="0.8" /><text x="0" y="0" font-size="4.8" text-anchor="middle" fill="#333" transform="translate(415.5,324.5) rotate(-90)">YD 10x21M</text><rect x="371.3" y="350.5" width="6.00" height="100.50" fill="#fff" stroke="#1e1e1e" stroke-width="1.0" /><line x1="374.3" y1="350.5" x2="374.3" y2="451" stroke="#888" stroke-width="0.5" /><rect x="457.4" y="350.5" width="3.00" height="100.50" fill="#fff" stroke="#1e1e1e" stroke-width="0.9" /><rect x="457" y="405.4" width="4.00" height="19.80" fill="#fff" stroke="none" stroke-width="0" /><rect x="458" y="404" width="1.50" height="22.00" fill="#fff" stroke="#222" stroke-width="0.6" /><rect x="371" y="393.5" width="7.00" height="21.80" fill="#fff" stroke="none" stroke-width="0" /><rect x="371.5" y="392" width="1.50" height="25.00" fill="#fff" stroke="#222" stroke-width="0.6" /><rect x="580.8" y="349.6" width="4.20" height="70.10" fill="#fff" stroke="#1e1e1e" stroke-width="0.9" /><rect x="669" y="349.6" width="5.30" height="70.10" fill="#fff" stroke="#1e1e1e" stroke-width="1.0" /><rect x="580.8" y="427.8" width="3.50" height="30.40" fill="#fff" stroke="#1e1e1e" stroke-width="0.9" /><rect x="670" y="427.8" width="3.50" height="30.40" fill="#fff" stroke="#1e1e1e" stroke-width="0.9" /><path d="M765,428.6 L738,459.5" stroke="#1e1e1e" stroke-width="1.1"/><path d="M761,427.8 L736,457" stroke="#555" stroke-width="0.6"/><rect x="524.1" y="261.9" width="100.70" height="55.80" fill="url(#wallp)" stroke="#1e1e1e" stroke-width="1.1" /><rect x="527.3" y="265" width="94.30" height="49.60" fill="none" stroke="#888" stroke-width="0.6" /><rect x="530" y="268" width="89.00" height="43.50" fill="#fff" stroke="#1e1e1e" stroke-width="1.1" /><rect x="530" y="268" width="31.30" height="43.50" fill="#fff" stroke="#1e1e1e" stroke-width="1.0" /><rect x="561.3" y="268" width="51.70" height="43.50" fill="#f2f2f2" stroke="#1e1e1e" stroke-width="1.0" /><line x1="561.3" y1="283.5" x2="613" y2="283.5" stroke="#222" stroke-width="0.8" /><line x1="531" y1="292" x2="559" y2="292" stroke="#444" stroke-width="0.6" stroke-dasharray="6,2"/><line x1="546" y1="302" x2="559" y2="302" stroke="#444" stroke-width="0.8" /><rect x="597" y="261.9" width="14.00" height="5.10" fill="#111" stroke="#111" stroke-width="0.8" /><line x1="604" y1="257.5" x2="604" y2="262" stroke="#333" stroke-width="0.6" /><rect x="574.5" y="311.5" width="20.00" height="6.20" fill="#fff" stroke="#222" stroke-width="0.7" /><rect x="574.5" y="272.5" width="14" height="9.5" rx="3.8" fill="#fff" stroke="#111" stroke-width="1.3"/><circle cx="581.5" cy="277" r="1" fill="#111"/><ellipse cx="605.5" cy="297" rx="4" ry="4.2" fill="#fff" stroke="#111" stroke-width="1.1"/><ellipse cx="605.5" cy="297" rx="1.5" ry="1.6" fill="none" stroke="#111" stroke-width="0.8"/><circle cx="541" cy="274" r="4" fill="none" stroke="#111" stroke-width="1"/><rect x="537" y="268" width="8.00" height="3.00" fill="#111" stroke="#111" stroke-width="0.5" /><path d="M574.5,317.7 A20,20 0 0 0 594.3,337.5" fill="none" stroke="#222" stroke-width="0.8"/><line x1="594.3" y1="317.7" x2="594.3" y2="337.5" stroke="#222" stroke-width="0.8" /><text x="582.7" y="324" font-size="4.3" text-anchor="middle" fill="#333" >YD 10x21M</text><rect x="426.6" y="243.4" width="67.10" height="46.40" fill="#fff" stroke="#111" stroke-width="1.8" /><line x1="427.5" y1="243.4" x2="427.5" y2="289.8" stroke="#111" stroke-width="2.2" /><line x1="449.0" y1="244.5" x2="449.0" y2="265.3" stroke="#1a1a1a" stroke-width="1.3" /><line x1="449.0" y1="268.3" x2="449.0" y2="288.8" stroke="#1a1a1a" stroke-width="1.3" /><line x1="454.58" y1="244.5" x2="454.58" y2="265.3" stroke="#1a1a1a" stroke-width="1.3" /><line x1="454.58" y1="268.3" x2="454.58" y2="288.8" stroke="#1a1a1a" stroke-width="1.3" /><line x1="460.16" y1="244.5" x2="460.16" y2="265.3" stroke="#1a1a1a" stroke-width="1.3" /><line x1="460.16" y1="268.3" x2="460.16" y2="288.8" stroke="#1a1a1a" stroke-width="1.3" /><line x1="465.74" y1="244.5" x2="465.74" y2="265.3" stroke="#1a1a1a" stroke-width="1.3" /><line x1="465.74" y1="268.3" x2="465.74" y2="288.8" stroke="#1a1a1a" stroke-width="1.3" /><line x1="471.32" y1="244.5" x2="471.32" y2="265.3" stroke="#1a1a1a" stroke-width="1.3" /><line x1="471.32" y1="268.3" x2="471.32" y2="288.8" stroke="#1a1a1a" stroke-width="1.3" /><line x1="476.9" y1="244.5" x2="476.9" y2="265.3" stroke="#1a1a1a" stroke-width="1.3" /><line x1="476.9" y1="268.3" x2="476.9" y2="288.8" stroke="#1a1a1a" stroke-width="1.3" /><line x1="482.48" y1="244.5" x2="482.48" y2="265.3" stroke="#1a1a1a" stroke-width="1.3" /><line x1="482.48" y1="268.3" x2="482.48" y2="288.8" stroke="#1a1a1a" stroke-width="1.3" /><line x1="488.06" y1="244.5" x2="488.06" y2="265.3" stroke="#1a1a1a" stroke-width="1.3" /><line x1="488.06" y1="268.3" x2="488.06" y2="288.8" stroke="#1a1a1a" stroke-width="1.3" /><line x1="493.64" y1="244.5" x2="493.64" y2="265.3" stroke="#1a1a1a" stroke-width="1.3" /><line x1="493.64" y1="268.3" x2="493.64" y2="288.8" stroke="#1a1a1a" stroke-width="1.3" /><line x1="438.3" y1="255" x2="493.7" y2="255" stroke="#444" stroke-width="0.7" /><line x1="438.3" y1="279.5" x2="493.7" y2="279.5" stroke="#444" stroke-width="0.7" /><line x1="438.3" y1="255" x2="438.3" y2="279.5" stroke="#444" stroke-width="0.7" /><line x1="449" y1="266.8" x2="524" y2="266.8" stroke="#111" stroke-width="3.0" /><path d="M487,276.5 L491.5,279.5 L487,282.5" fill="none" stroke="#333" stroke-width="0.7"/><rect x="426.6" y="291" width="66.40" height="21.00" fill="#fff" stroke="#1e1e1e" stroke-width="1.2" /><rect x="428.5" y="294.5" width="61.50" height="15.50" fill="#fff" stroke="#333" stroke-width="0.7" /><text x="460.5" y="306" font-size="6.4" text-anchor="middle" fill="#333" >cabinet</text><line x1="436" y1="302" x2="450" y2="302" stroke="#555" stroke-width="0.9" /><line x1="472" y1="302" x2="487" y2="302" stroke="#555" stroke-width="0.9" /><path d="M447,313.5 A21,21 0 0 1 426.5,334.5" fill="none" stroke="#222" stroke-width="0.8"/><path d="M502,340 A22,22 0 0 1 524,318" fill="none" stroke="#222" stroke-width="0.8" stroke-dasharray="3,2"/><rect x="466" y="334.7" width="24.00" height="5.90" fill="#fff" stroke="#1e1e1e" stroke-width="0.9" /><text x="478" y="339.5" font-size="3.6" text-anchor="middle" fill="#444" >shoe rack</text><rect x="566" y="341.5" width="34.00" height="7.00" fill="#fff" stroke="#333" stroke-width="0.7" /><text x="583" y="347" font-size="3.8" text-anchor="middle" fill="#444" >laundry</text><rect x="303.5" y="350.5" width="67.80" height="22.50" fill="#fff" stroke="#1e1e1e" stroke-width="0.9" /><rect x="303.5" y="373" width="45.50" height="18.00" fill="#fff" stroke="#111" stroke-width="1.3" /><rect x="303.5" y="378.5" width="8.50" height="12.50" fill="#fff" stroke="#333" stroke-width="0.8" /><line x1="303.5" y1="378.5" x2="312" y2="391" stroke="#333" stroke-width="0.6" /><line x1="312" y1="378.5" x2="303.5" y2="391" stroke="#333" stroke-width="0.6" /><circle cx="332.5" cy="385.5" r="5" fill="#fff" stroke="#111" stroke-width="1.2"/><circle cx="326" cy="364.5" r="4.3" fill="#fff" stroke="#111" stroke-width="1.1"/><line x1="326" y1="362" x2="326" y2="373" stroke="#111" stroke-width="1.1" /><text x="325.5" y="358.5" font-size="7.2" text-anchor="middle" fill="#222" >Shower</text><rect x="303.5" y="423.5" width="46.30" height="27.50" fill="#fff" stroke="#1e1e1e" stroke-width="1.0" /><rect x="307" y="428" width="38" height="19" rx="9.5" fill="#fff" stroke="#111" stroke-width="1.4"/><rect x="311.5" y="431" width="29" height="13" rx="6.5" fill="#fff" stroke="#222" stroke-width="0.8"/><ellipse cx="360.5" cy="441" rx="4" ry="4.5" fill="#fff" stroke="#111" stroke-width="1"/><rect x="350" y="446.5" width="21.30" height="4.50" fill="#fff" stroke="#222" stroke-width="0.8" /><rect x="296.5" y="391" width="7.00" height="19.00" fill="#fff" stroke="#111" stroke-width="1.4" /><text x="0" y="0" font-size="4.6" text-anchor="middle" fill="#333" transform="translate(293,400) rotate(-90)">V11 900x1600</text><rect x="367" y="363" width="4.00" height="25.00" fill="#fff" stroke="#333" stroke-width="0.6" /><text x="0" y="0" font-size="4.6" text-anchor="middle" fill="#333" transform="translate(383.5,403.4) rotate(-90)">SD 10x21M</text><rect x="397.5" y="384" width="40.60" height="47.60" fill="#fff" stroke="#111" stroke-width="1.5" /><rect x="396.5" y="375.7" width="44.50" height="8.30" fill="#fff" stroke="#222" stroke-width="1.0" /><rect x="399.5" y="387.6" width="17.80" height="8.90" fill="#fff" stroke="#222" stroke-width="0.8" /><rect x="419.3" y="387.6" width="17.20" height="8.90" fill="#fff" stroke="#222" stroke-width="0.8" /><text x="419" y="382.3" font-size="5.8" text-anchor="middle" fill="#333" >nattbord</text><path d="M437.5,350.5 A17,17 0 0 0 454.5,367.5 L454.5,350.5" fill="none" stroke="#222" stroke-width="0.8"/><text x="443" y="357.5" font-size="4.6" text-anchor="middle" fill="#333" >YD 10x21M</text><text x="448" y="445" font-size="4.6" text-anchor="middle" fill="#333" >TV</text><rect x="456.5" y="395" width="3.00" height="15.00" fill="#222" stroke="#222" stroke-width="0.6" /><rect x="456.5" y="425" width="3.00" height="20.00" fill="#fff" stroke="#222" stroke-width="0.6" /><text x="0" y="0" font-size="4.6" text-anchor="middle" fill="#333" transform="translate(452,415.3) rotate(-90)">SD 10x21M</text><rect x="466" y="367" width="20.00" height="79.00" fill="none" stroke="#333" stroke-width="0.9" stroke-dasharray="4,3"/><line x1="566" y1="349.6" x2="566" y2="419.7" stroke="#1e1e1e" stroke-width="1.0" /><rect x="566.7" y="349.8" width="14.10" height="38.60" fill="#fff" stroke="#111" stroke-width="1.5" /><line x1="566.7" y1="362.5" x2="580.8" y2="362.5" stroke="#111" stroke-width="1.3" /><line x1="566.7" y1="375.8" x2="580.8" y2="375.8" stroke="#111" stroke-width="1.3" /><rect x="586" y="349.8" width="13.30" height="38.60" fill="#fff" stroke="#111" stroke-width="1.5" /><line x1="586" y1="362.5" x2="599.3" y2="362.5" stroke="#111" stroke-width="1.3" /><line x1="586" y1="375.8" x2="599.3" y2="375.8" stroke="#111" stroke-width="1.3" /><line x1="569" y1="390" x2="569" y2="419" stroke="#444" stroke-width="0.7" stroke-dasharray="3,2"/><rect x="674.3" y="349.8" width="13.40" height="26.00" fill="#fff" stroke="#111" stroke-width="1.4" /><line x1="674.3" y1="362.8" x2="687.7" y2="362.8" stroke="#111" stroke-width="1.2" /><line x1="599.3" y1="349.6" x2="599.3" y2="419.7" stroke="#1e1e1e" stroke-width="1.0" /><rect x="498.6" y="351" width="43.90" height="18.30" fill="#fff" stroke="#111" stroke-width="1.4" /><rect x="500.5" y="353" width="10.50" height="14.00" fill="#fff" stroke="#333" stroke-width="0.8" /><line x1="513" y1="351" x2="517" y2="369" stroke="#444" stroke-width="0.5" /><rect x="623.8" y="349.8" width="43.80" height="19.30" fill="#fff" stroke="#111" stroke-width="1.4" /><rect x="656.5" y="351.5" width="9.50" height="15.50" fill="#fff" stroke="#333" stroke-width="0.8" /><line x1="650" y1="351" x2="654" y2="369" stroke="#444" stroke-width="0.5" /><rect x="736.6" y="349.7" width="18.40" height="42.50" fill="#fff" stroke="#111" stroke-width="1.4" /><rect x="739" y="352" width="14.00" height="9.00" fill="#fff" stroke="#333" stroke-width="0.8" /><line x1="737" y1="375" x2="755" y2="380" stroke="#444" stroke-width="0.5" /><rect x="498.6" y="384.7" width="15.00" height="35.00" fill="#fff" stroke="#222" stroke-width="0.9" /><rect x="652.8" y="384.7" width="16.20" height="35.00" fill="#fff" stroke="#222" stroke-width="0.9" /><rect x="674.3" y="384.7" width="14.90" height="35.00" fill="#fff" stroke="#222" stroke-width="0.9" /><path d="M502,395 L504,407 M506,396 L507,407" stroke="#111" stroke-width="2"/><path d="M657,398 L659,410 M661,399 L662,410" stroke="#111" stroke-width="2"/><path d="M681,398 L683,410 M685,399 L686,410" stroke="#111" stroke-width="2"/><g transform="translate(520,399) rotate(20)"><path d="M-5,-6 L4,-7 L6,4 L-4,6 Z" fill="#fff" stroke="#222" stroke-width="0.9"/></g><g transform="translate(645,404) rotate(-30)"><path d="M-5,-6 L4,-7 L6,4 L-4,6 Z" fill="#fff" stroke="#222" stroke-width="0.9"/></g><g transform="translate(696,404) rotate(30)"><path d="M-5,-6 L4,-7 L6,4 L-4,6 Z" fill="#fff" stroke="#222" stroke-width="0.9"/></g><path d="M543.5,349.6 A20.5,20.5 0 0 0 564,370" fill="none" stroke="#222" stroke-width="0.8"/><line x1="564" y1="349.6" x2="564" y2="370" stroke="#222" stroke-width="0.8" /><path d="M622.1,349.6 A20.5,20.5 0 0 1 601.6,370" fill="none" stroke="#222" stroke-width="0.8"/><line x1="601.6" y1="349.6" x2="601.6" y2="370" stroke="#222" stroke-width="0.8" /><path d="M709.8,349.6 A20.5,20.5 0 0 1 689.3,370" fill="none" stroke="#222" stroke-width="0.8"/><line x1="689.3" y1="349.6" x2="689.3" y2="370" stroke="#222" stroke-width="0.8" /><text x="554" y="357.5" font-size="4.6" text-anchor="middle" fill="#333" >YD 10x21M</text><text x="628" y="357.5" font-size="4.6" text-anchor="middle" fill="#333" >YD 10x21M</text><text x="697" y="357.5" font-size="4.6" text-anchor="middle" fill="#333" >YD 10x21M</text><rect x="362" y="284.0" width="45.00" height="3.60" fill="#fff" stroke="#111" stroke-width="1.0" /><line x1="362" y1="284.0" x2="407" y2="284.0" stroke="#111" stroke-width="1.6" /><rect x="309" y="455.2" width="46.00" height="3.60" fill="#fff" stroke="#111" stroke-width="1.0" /><line x1="309" y1="455.2" x2="355" y2="455.2" stroke="#111" stroke-width="1.6" /><rect x="400" y="455.2" width="42.00" height="3.60" fill="#fff" stroke="#111" stroke-width="1.0" /><line x1="400" y1="455.2" x2="442" y2="455.2" stroke="#111" stroke-width="1.6" /><rect x="514" y="420" width="32.00" height="3.50" fill="#fff" stroke="#111" stroke-width="1.0" /><line x1="514" y1="420" x2="546" y2="420" stroke="#111" stroke-width="1.6" /><rect x="611" y="420" width="33.00" height="3.50" fill="#fff" stroke="#111" stroke-width="1.0" /><line x1="611" y1="420" x2="644" y2="420" stroke="#111" stroke-width="1.6" /><rect x="689" y="420" width="33.00" height="3.50" fill="#fff" stroke="#111" stroke-width="1.0" /><line x1="689" y1="420" x2="722" y2="420" stroke="#111" stroke-width="1.6" /><path d="M542,427.8 A24,24 0 0 0 566,451.2" fill="none" stroke="#222" stroke-width="0.8"/><line x1="549.5" y1="450.5" x2="564" y2="450.5" stroke="#444" stroke-width="0.7" /><path d="M625,427.8 A23.6,23.6 0 0 1 601.4,450.3" fill="none" stroke="#222" stroke-width="0.8"/><line x1="601.4" y1="450.3" x2="618" y2="450.3" stroke="#444" stroke-width="0.7" /><path d="M710,427.8 A21,21 0 0 1 689,448.8" fill="none" stroke="#222" stroke-width="0.8"/><line x1="689" y1="448.8" x2="703" y2="448.8" stroke="#444" stroke-width="0.7" /><text x="554.4" y="434" font-size="4.4" text-anchor="middle" fill="#333" >YDG 10x21M</text><text x="612" y="434" font-size="4.4" text-anchor="middle" fill="#333" >YDG 10x21M</text><text x="719" y="434" font-size="4.4" text-anchor="middle" fill="#333" >YDG 10x21M</text><rect x="440.7" y="459.4" width="47.80" height="19.10" fill="#fff" stroke="#1e1e1e" stroke-width="1.1" /><rect x="443.5" y="462" width="42.50" height="14.00" fill="#fff" stroke="#222" stroke-width="0.8" /><circle cx="452" cy="469" r="4" fill="#fff" stroke="#111" stroke-width="1.1"/><circle cx="452" cy="469" r="1.8" fill="none" stroke="#111" stroke-width="0.8"/><text x="473.5" y="470.5" font-size="8" text-anchor="middle" fill="#222" >Chimney</text><path d="M624.8,262.5 L682.7,262.5 L765,337" fill="none" stroke="#1e1e1e" stroke-width="1.1"/><path d="M624.8,266.5 L681,266.5 L760.5,337.5" fill="none" stroke="#1e1e1e" stroke-width="1.0"/><path d="M624.8,264.5 L682,264.5 L762.7,337.2" fill="none" stroke="#999" stroke-width="0.6"/><g transform="translate(641,280) scale(0.92,0.92)"><path d="M10.5,10 L-2.5,10 Q-10.5,10 -10.5,2 L-10.5,-2 Q-10.5,-10 -2.5,-10 L2.5,-10 Q10.5,-10 10.5,-2 Z" fill="#fff" stroke="#111" stroke-width="1.6"/><path d="M6,6 L-1.5,6 Q-6.5,6 -6.5,1 L-6.5,-1 Q-6.5,-6 -1.5,-6 L1,-6 Q6,-6 6,-1 Z" fill="none" stroke="#333" stroke-width="0.7"/></g><g transform="translate(675.3,280) scale(-0.92,0.92)"><path d="M10.5,10 L-2.5,10 Q-10.5,10 -10.5,2 L-10.5,-2 Q-10.5,-10 -2.5,-10 L2.5,-10 Q10.5,-10 10.5,-2 Z" fill="#fff" stroke="#111" stroke-width="1.6"/><path d="M6,6 L-1.5,6 Q-6.5,6 -6.5,1 L-6.5,-1 Q-6.5,-6 -1.5,-6 L1,-6 Q6,-6 6,-1 Z" fill="none" stroke="#333" stroke-width="0.7"/></g><g transform="translate(675.5,307) scale(-0.92,-0.92)"><path d="M10.5,10 L-2.5,10 Q-10.5,10 -10.5,2 L-10.5,-2 Q-10.5,-10 -2.5,-10 L2.5,-10 Q10.5,-10 10.5,-2 Z" fill="#fff" stroke="#111" stroke-width="1.6"/><path d="M6,6 L-1.5,6 Q-6.5,6 -6.5,1 L-6.5,-1 Q-6.5,-6 -1.5,-6 L1,-6 Q6,-6 6,-1 Z" fill="none" stroke="#333" stroke-width="0.7"/></g><g transform="translate(640.5,306.6) scale(0.92,-0.92)"><path d="M10.5,10 L-2.5,10 Q-10.5,10 -10.5,2 L-10.5,-2 Q-10.5,-10 -2.5,-10 L2.5,-10 Q10.5,-10 10.5,-2 Z" fill="#fff" stroke="#111" stroke-width="1.6"/><path d="M6,6 L-1.5,6 Q-6.5,6 -6.5,1 L-6.5,-1 Q-6.5,-6 -1.5,-6 L1,-6 Q6,-6 6,-1 Z" fill="none" stroke="#333" stroke-width="0.7"/></g><g transform="translate(658.4,295.8) rotate(45)"><rect x="-8.7" y="-8.7" width="17.4" height="17.4" fill="#fff" stroke="#111" stroke-width="1.2"/></g><path d="M697,301 L700,297 L706,296 L709,301 L704,305 L698,304 Z" fill="#111"/><path d="M710,328 L713,323 L720,322 L725,327 L725,335 L719,340 L712,338 Z" fill="#b3bc9f"/><path d="M723,322 L728,318 L731,314 L738,316 L743,321 L746,326 L744,333 L738,339 L730,338 L724,333 Z" fill="#2e6a28"/><path transform="translate(573.4,443)" d="M-2,-14 L3,-12 L2,-7 L7,-6 L6,-1 L2,0 L6,4 L8,9 L3,10 L2,14 L-3,13 L-4,8 L-8,9 L-7,3 L-3,1 L-8,-3 L-6,-8 L-2,-8 Z" fill="#6d8a4c"/><path transform="translate(593,449.6) scale(0.75,0.55)" d="M-2,-14 L3,-12 L2,-7 L7,-6 L6,-1 L2,0 L6,4 L8,9 L3,10 L2,14 L-3,13 L-4,8 L-8,9 L-7,3 L-3,1 L-8,-3 L-6,-8 L-2,-8 Z" fill="#6d8a4c"/><path transform="translate(681.3,438) scale(0.7,0.55)" d="M-2,-14 L3,-12 L2,-7 L7,-6 L6,-1 L2,0 L6,4 L8,9 L3,10 L2,14 L-3,13 L-4,8 L-8,9 L-7,3 L-3,1 L-8,-3 L-6,-8 L-2,-8 Z" fill="#6d8a4c"/><g transform="translate(509.6,438.7) rotate(-15)"><rect x="-6" y="-6" width="12" height="12" rx="3.5" fill="#fff" stroke="#1d2a45" stroke-width="1.4"/><path d="M-4,-2 L4,-2" stroke="#1d2a45" stroke-width="0.7"/></g><g transform="translate(529.6,438) rotate(10)"><rect x="-6" y="-6" width="12" height="12" rx="3.5" fill="#fff" stroke="#1d2a45" stroke-width="1.4"/><path d="M-4,-2 L4,-2" stroke="#1d2a45" stroke-width="0.7"/></g><g transform="translate(645.6,434.5) rotate(20)"><rect x="-6" y="-6" width="12" height="12" rx="3.5" fill="#fff" stroke="#1d2a45" stroke-width="1.4"/><path d="M-4,-2 L4,-2" stroke="#1d2a45" stroke-width="0.7"/></g><g transform="translate(659.8,450) rotate(0)"><rect x="-6" y="-6" width="12" height="12" rx="3.5" fill="#fff" stroke="#1d2a45" stroke-width="1.4"/><path d="M-4,-2 L4,-2" stroke="#1d2a45" stroke-width="0.7"/></g><g transform="translate(681.8,450) rotate(0)"><rect x="-6" y="-6" width="12" height="12" rx="3.5" fill="#fff" stroke="#1d2a45" stroke-width="1.4"/><path d="M-4,-2 L4,-2" stroke="#1d2a45" stroke-width="0.7"/></g><g transform="translate(740.3,438.6) rotate(-20)"><rect x="-6" y="-6" width="12" height="12" rx="3.5" fill="#fff" stroke="#1d2a45" stroke-width="1.4"/><path d="M-4,-2 L4,-2" stroke="#1d2a45" stroke-width="0.7"/></g><rect x="369" y="327.5" width="35.80" height="15.50" fill="#fff" stroke="#222" stroke-width="0.9" /><path d="M379,331 L391,329 M378,334.5 L394,333" stroke="#111" stroke-width="2"/><path d="M377,320 L384,317 L388,322 L381,326 Z" fill="#fff" stroke="#222" stroke-width="0.9"/><rect x="304.8" y="299" width="18.80" height="44.00" fill="#fff" stroke="#111" stroke-width="1.3" /><rect x="306" y="333" width="16.00" height="8.00" fill="#fff" stroke="#333" stroke-width="0.8" /><line x1="304.8" y1="331" x2="323.6" y2="325" stroke="#333" stroke-width="0.6" /><text x="356" y="306" font-size="8" text-anchor="middle" fill="#3d94d4" >Bedroom 5</text><text x="352" y="316" font-size="8" text-anchor="middle" fill="#222" >Sov5</text><text x="352" y="325.5" font-size="8" text-anchor="middle" fill="#222" >11.9 m²</text><text x="336" y="402" font-size="8" text-anchor="middle" fill="#3d94d4" >Bathroom</text><text x="331" y="411" font-size="8" text-anchor="middle" fill="#222" >Bad</text><text x="332" y="421" font-size="8" text-anchor="middle" fill="#222" >13.1 m²</text><text x="421" y="402" font-size="8" text-anchor="middle" fill="#3d94d4" >Masterbedroom</text><text x="418" y="411" font-size="8" text-anchor="middle" fill="#222" >Sov1</text><text x="417.5" y="421" font-size="8" text-anchor="middle" fill="#222" >16.1 m²</text><text x="472.5" y="398" font-size="8" text-anchor="middle" fill="#222" >Walk-Inn</text><text x="471" y="407.5" font-size="8" text-anchor="middle" fill="#222" >6.9 m²</text><text x="549" y="268" font-size="8" text-anchor="middle" fill="#3d94d4" >Shower</text><text x="546" y="281" font-size="8" text-anchor="middle" fill="#222" >Dusj</text><text x="545" y="289.5" font-size="8" text-anchor="middle" fill="#222" >1.1 m²</text><text x="584" y="286" font-size="8" text-anchor="middle" fill="#3d94d4" >Bathroom</text><text x="580" y="293.5" font-size="8" text-anchor="middle" fill="#222" >Bad</text><text x="581" y="302" font-size="8" text-anchor="middle" fill="#222" >5.4 m²</text><text x="542" y="321.5" font-size="8" text-anchor="middle" fill="#3d94d4" >Hall</text><text x="543" y="329" font-size="8" text-anchor="middle" fill="#222" >Gang</text><text x="543" y="338" font-size="8" text-anchor="middle" fill="#222" >14.7 m²</text><text x="662" y="319.5" font-size="8" text-anchor="middle" fill="#3d94d4" >Chill out area</text><text x="660" y="328" font-size="8" text-anchor="middle" fill="#222" >Felles</text><text x="660" y="337" font-size="8" text-anchor="middle" fill="#222" >14.9 m²</text><text x="535" y="385.5" font-size="8" text-anchor="middle" fill="#3d94d4" >Bedroom 2</text><text x="543.6" y="394.5" font-size="8" text-anchor="middle" fill="#222" >Sov2</text><text x="543" y="403.5" font-size="8" text-anchor="middle" fill="#222" >11.7 m²</text><text x="628" y="385.5" font-size="8" text-anchor="middle" fill="#3d94d4" >Bedroom 3</text><text x="620.5" y="394.5" font-size="8" text-anchor="middle" fill="#222" >Sov3</text><text x="620.5" y="403.5" font-size="8" text-anchor="middle" fill="#222" >11.7 m²</text><text x="714" y="385.5" font-size="8" text-anchor="middle" fill="#3d94d4" >Bedroom 4</text><text x="718" y="394.5" font-size="8" text-anchor="middle" fill="#222" >Sov4</text><text x="718.6" y="403.5" font-size="8" text-anchor="middle" fill="#222" >11.7 m²</text><text x="523" y="436.5" font-size="8" text-anchor="middle" fill="#3d94d4" >Balcony</text><text x="526" y="443.5" font-size="8" text-anchor="middle" fill="#222" >Altan</text><text x="527" y="452.5" font-size="8" text-anchor="middle" fill="#222" >5.1 m²</text><text x="645" y="436.5" font-size="8" text-anchor="middle" fill="#3d94d4" >Balcony</text><text x="635" y="443.5" font-size="8" text-anchor="middle" fill="#222" >Altan</text><text x="636" y="452.5" font-size="8" text-anchor="middle" fill="#222" >5.4 m²</text><text x="745" y="436.5" font-size="8" text-anchor="middle" fill="#3d94d4" >Balcony</text><text x="729" y="443.5" font-size="8" text-anchor="middle" fill="#222" >Altan</text><text x="731" y="452.5" font-size="8" text-anchor="middle" fill="#222" >5 m²</text><text x="387" y="279" font-size="4.8" text-anchor="middle" fill="#333" >V05 2000x2000mm</text><text x="604" y="256.5" font-size="4.8" text-anchor="middle" fill="#333" >V06 700x1200mm</text><text x="318" y="467" font-size="4.8" text-anchor="middle" fill="#333" >V10 2000x1600mm</text><text x="412" y="467" font-size="4.8" text-anchor="middle" fill="#333" >V09 2000x2100mm</text><text x="531" y="417.5" font-size="4.8" text-anchor="middle" fill="#333" >V08 1100x2100mm</text><text x="629" y="417.5" font-size="4.8" text-anchor="middle" fill="#333" >V08 1100x2100mm</text><text x="720" y="417.5" font-size="4.8" text-anchor="middle" fill="#333" >V07 1100x2100mm</text><line x1="303.7" y1="64.0" x2="303.7" y2="550.0" stroke="#6a6a6a" stroke-width="0.8" stroke-dasharray="22,4,4.5,4.5"/><line x1="418.6" y1="64.0" x2="418.6" y2="550.0" stroke="#6a6a6a" stroke-width="0.8" stroke-dasharray="22,4,4.5,4.5"/><line x1="531.5" y1="64.0" x2="531.5" y2="550.0" stroke="#6a6a6a" stroke-width="0.8" stroke-dasharray="22,4,4.5,4.5"/><line x1="560.0" y1="64.0" x2="560.0" y2="550.0" stroke="#6a6a6a" stroke-width="0.8" stroke-dasharray="22,4,4.5,4.5"/><line x1="639.3" y1="64.0" x2="639.3" y2="550.0" stroke="#6a6a6a" stroke-width="0.8" stroke-dasharray="22,4,4.5,4.5"/><line x1="725.8" y1="64.0" x2="725.8" y2="550.0" stroke="#6a6a6a" stroke-width="0.8" stroke-dasharray="22,4,4.5,4.5"/><line x1="513.0" y1="120.0" x2="513.0" y2="548.0" stroke="#6a6a6a" stroke-width="0.8" stroke-dasharray="22,4,4.5,4.5"/><line x1="106.0" y1="270.0" x2="860.0" y2="270.0" stroke="#6a6a6a" stroke-width="0.8" stroke-dasharray="22,4,4.5,4.5"/><line x1="106.0" y1="292.0" x2="860.0" y2="292.0" stroke="#6a6a6a" stroke-width="0.8" stroke-dasharray="22,4,4.5,4.5"/><line x1="106.0" y1="390.0" x2="860.0" y2="390.0" stroke="#6a6a6a" stroke-width="0.8" stroke-dasharray="22,4,4.5,4.5"/><line x1="106.0" y1="458.0" x2="860.0" y2="458.0" stroke="#6a6a6a" stroke-width="0.8" stroke-dasharray="22,4,4.5,4.5"/><line x1="180.0" y1="270.4" x2="840.0" y2="270.4" stroke="#6a6a6a" stroke-width="0.8" stroke-dasharray="13,10.5,1.5,11"/><line x1="180.0" y1="378.1" x2="840.0" y2="378.1" stroke="#6a6a6a" stroke-width="0.8" stroke-dasharray="13,10.5,1.5,11"/><line x1="180.0" y1="418.5" x2="840.0" y2="418.5" stroke="#6a6a6a" stroke-width="0.8" stroke-dasharray="13,10.5,1.5,11"/><line x1="180.0" y1="450.3" x2="840.0" y2="450.3" stroke="#6a6a6a" stroke-width="0.8" stroke-dasharray="13,10.5,1.5,11"/><line x1="193.5" y1="302.2" x2="838.0" y2="302.2" stroke="#6a6a6a" stroke-width="0.8" stroke-dasharray="13,10.5,1.5,11"/><rect x="161.5" y="289" width="10.5" height="6.5" fill="#fff"/><text x="166.8" y="295" font-size="7.3" text-anchor="middle" fill="#222" font-weight="normal" >F</text></svg>
</body></html>
